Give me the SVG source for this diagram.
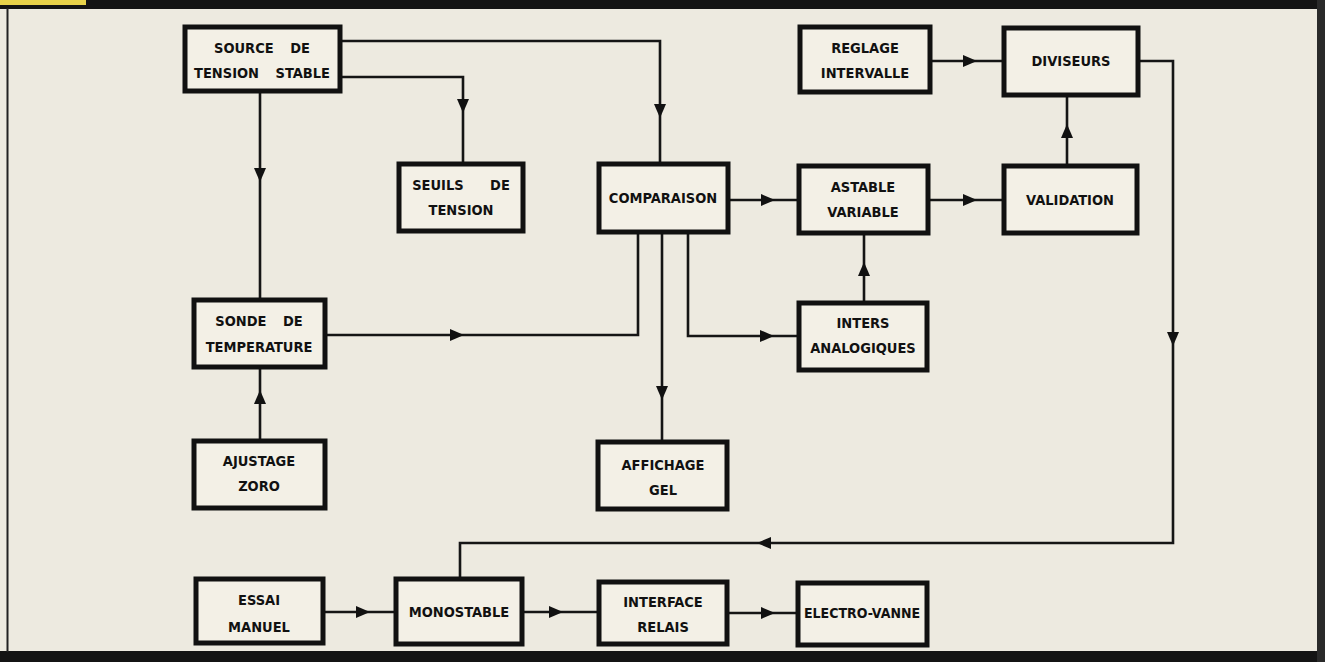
<svg xmlns="http://www.w3.org/2000/svg" width="1325" height="662" viewBox="0 0 1325 662">
<style>
.box{fill:#f3f0e6;stroke:#111;stroke-width:5}
.ln{fill:none;stroke:#151515;stroke-width:2.6}
.t{font-family:"DejaVu Sans Condensed","Liberation Sans Narrow","Liberation Sans",sans-serif;font-weight:bold;font-size:14.5px;fill:#111;text-anchor:middle;word-spacing:12px}
</style>
<defs>
<path id="ah" d="M0,0 L-14,-6 L-14,6 Z" fill="#111"/>
</defs>
<rect x="0" y="0" width="1325" height="662" fill="#edeae0"/>
<!-- frame -->
<rect x="0" y="0" width="1325" height="9" fill="#141414"/>
<rect x="0" y="0" width="86" height="5" fill="#e8d24a"/>
<rect x="0" y="651" width="1325" height="11" fill="#141414"/>
<rect x="1317" y="0" width="8" height="662" fill="#2a2a2a"/>
<line x1="7.5" y1="8" x2="7.5" y2="652" stroke="#222" stroke-width="2"/>

<g id="connectors">
<path class="ln" d="M260,92 V299"/>
<use href="#ah" transform="translate(260,182) rotate(90)"/>
<path class="ln" d="M340,41 H660 V163"/>
<use href="#ah" transform="translate(660,118) rotate(90)"/>
<path class="ln" d="M340,77 H463 V163"/>
<use href="#ah" transform="translate(463,113) rotate(90)"/>
<path class="ln" d="M325,335 H638 V233"/>
<use href="#ah" transform="translate(464,335)"/>
<path class="ln" d="M260,440 V367"/>
<use href="#ah" transform="translate(260,390) rotate(-90)"/>
<path class="ln" d="M728,200 H798"/>
<use href="#ah" transform="translate(775,200)"/>
<path class="ln" d="M662,233 V441"/>
<use href="#ah" transform="translate(662,400) rotate(90)"/>
<path class="ln" d="M688,233 V336 H798"/>
<use href="#ah" transform="translate(774,336)"/>
<path class="ln" d="M864,302 V233"/>
<use href="#ah" transform="translate(864,262) rotate(-90)"/>
<path class="ln" d="M928,200 H1003"/>
<use href="#ah" transform="translate(977,200)"/>
<path class="ln" d="M1067,165 V95"/>
<use href="#ah" transform="translate(1067,124) rotate(-90)"/>
<path class="ln" d="M930,61 H1003"/>
<use href="#ah" transform="translate(977,61)"/>
<path class="ln" d="M1138,61 H1173 V543 H460 V578"/>
<use href="#ah" transform="translate(1173,346) rotate(90)"/>
<use href="#ah" transform="translate(757,543) rotate(180)"/>
<path class="ln" d="M323,612 H395"/>
<use href="#ah" transform="translate(370,612)"/>
<path class="ln" d="M522,612 H598"/>
<use href="#ah" transform="translate(563,612)"/>
<path class="ln" d="M727,613 H797"/>
<use href="#ah" transform="translate(775,613)"/>
</g>

<g id="source">
<rect class="box" x="185" y="27" width="155" height="64"/>
<text class="t" x="262" y="53">SOURCE DE</text>
<text class="t" x="262" y="78">TENSION STABLE</text>
</g>
<g id="seuils">
<rect class="box" x="399" y="164" width="124" height="67"/>
<text class="t" x="461" y="190" style="word-spacing:22px">SEUILS DE</text>
<text class="t" x="461" y="215">TENSION</text>
</g>
<g id="sonde">
<rect class="box" x="194" y="300" width="131" height="67"/>
<text class="t" x="259" y="326">SONDE DE</text>
<text class="t" x="259" y="352">TEMPERATURE</text>
</g>
<g id="ajustage">
<rect class="box" x="194" y="441" width="131" height="67"/>
<text class="t" x="259" y="466">AJUSTAGE</text>
<text class="t" x="259" y="491">ZORO</text>
</g>
<g id="essai">
<rect class="box" x="196" y="579" width="127" height="64"/>
<text class="t" x="259" y="605">ESSAI</text>
<text class="t" x="259" y="632">MANUEL</text>
</g>
<g id="monostable">
<rect class="box" x="396" y="579" width="126" height="65"/>
<text class="t" x="459" y="617">MONOSTABLE</text>
</g>
<g id="interface">
<rect class="box" x="599" y="582" width="128" height="62"/>
<text class="t" x="663" y="607">INTERFACE</text>
<text class="t" x="663" y="632">RELAIS</text>
</g>
<g id="electro">
<rect class="box" x="798" y="583" width="129" height="62"/>
<text class="t" x="862" y="618" style="font-size:14px">ELECTRO-VANNE</text>
</g>
<g id="comparaison">
<rect class="box" x="599" y="164" width="129" height="68"/>
<text class="t" x="663" y="203">COMPARAISON</text>
</g>
<g id="affichage">
<rect class="box" x="598" y="442" width="129" height="67"/>
<text class="t" x="663" y="470">AFFICHAGE</text>
<text class="t" x="663" y="495">GEL</text>
</g>
<g id="inters">
<rect class="box" x="799" y="303" width="128" height="67"/>
<text class="t" x="863" y="328">INTERS</text>
<text class="t" x="863" y="353">ANALOGIQUES</text>
</g>
<g id="astable">
<rect class="box" x="799" y="166" width="129" height="67"/>
<text class="t" x="863" y="192">ASTABLE</text>
<text class="t" x="863" y="217">VARIABLE</text>
</g>
<g id="validation">
<rect class="box" x="1004" y="166" width="133" height="67"/>
<text class="t" x="1070" y="205">VALIDATION</text>
</g>
<g id="reglage">
<rect class="box" x="800" y="27" width="130" height="65"/>
<text class="t" x="865" y="53">REGLAGE</text>
<text class="t" x="865" y="78">INTERVALLE</text>
</g>
<g id="diviseurs">
<rect class="box" x="1004" y="28" width="134" height="67"/>
<text class="t" x="1071" y="66">DIVISEURS</text>
</g>
</svg>
